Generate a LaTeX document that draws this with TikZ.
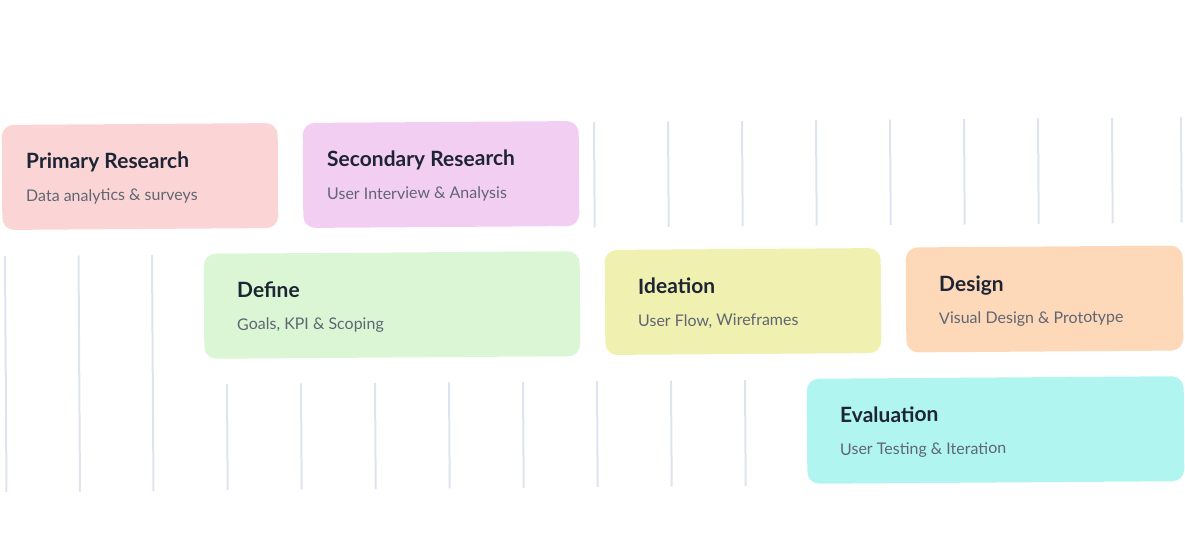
\documentclass[tikz,border=0pt]{standalone}
\usepackage{fontspec}
\setmainfont{Lato}
\definecolor{prc}{HTML}{FBD5D6}
\definecolor{src}{HTML}{F3CEF3}
\definecolor{dfc}{HTML}{DBF6D5}
\definecolor{idc}{HTML}{F0F0B1}
\definecolor{dsc}{HTML}{FED9B9}
\definecolor{evc}{HTML}{B1F5F0}
\definecolor{ttlc}{HTML}{1D2433}
\definecolor{subc}{HTML}{5F6672}
\definecolor{gridc}{HTML}{DEE4EF}
\tikzset{
  stagebox/.style={rounded corners=12pt, fill=#1, draw=none, minimum height=105pt, inner sep=0pt, rotate=0.4},
  ttl/.style={anchor=base west, inner sep=0pt, text=ttlc, font=\fontsize{21}{25}\selectfont\bfseries, rotate=0.4},
  sub/.style={anchor=base west, inner sep=0pt, text=subc, font=\fontsize{16}{19}\selectfont, rotate=0.4},
  gridline/.style={draw=gridc, line width=2pt}
}
\begin{document}
\begin{tikzpicture}[x=1pt,y=-1pt]
\useasboundingbox (0,0) rectangle (1185,559);
% grid lines, row 1
\foreach \gx/\i in {594/0,668/1,742/2,816/3,890/4,964/5,1038/6,1112/7,1181/8}{
  \pgfmathsetmacro\gt{122-0.0081*(\gx-594)}
  \coordinate (ga\i) at (\gx,\gt);
  \coordinate (gb\i) at (\gx+0.7,\gt+105.5);
  \draw[gridline] (ga\i) -- (gb\i);
}
% grid lines, left of row 2
\foreach \i in {0,1,2}{
  \pgfmathsetmacro\gx{5+73.5*\i}
  \pgfmathsetmacro\gt{256-0.5*\i}
  \coordinate (gc\i) at (\gx,\gt);
  \coordinate (gd\i) at (\gx+1.5,\gt+236);
  \draw[gridline] (gc\i) -- (gd\i);
}
% grid lines, row 3
\foreach \i in {0,...,7}{
  \pgfmathsetmacro\gx{227+74*\i}
  \pgfmathsetmacro\gt{384-0.0075*74*\i}
  \coordinate (ge\i) at (\gx,\gt);
  \coordinate (gf\i) at (\gx+0.7,\gt+106);
  \draw[gridline] (ge\i) -- (gf\i);
}
% boxes
\node[stagebox=prc, minimum width=276pt] (pr) at (140,176.5) {};
\node[stagebox=src, minimum width=276pt] (sr) at (441,174.5) {};
\node[stagebox=dfc, minimum width=376pt] (df) at (392,305) {};
\node[stagebox=idc, minimum width=276pt] (id) at (743,301.5) {};
\node[stagebox=dsc, minimum width=277pt] (ds) at (1044.5,299) {};
\node[stagebox=evc, minimum width=377pt] (ev) at (995.5,430) {};
% texts
\node[ttl] (prt) at ([xshift=-114pt,yshift=7.5pt]pr.center) {Primary Research};
\node[sub] (prs) at ([xshift=-114pt,yshift=-25pt]pr.center) {Data analytics \& surveys};
\node[ttl] (srt) at ([xshift=-114pt,yshift=7.5pt]sr.center) {Secondary Research};
\node[sub] (srs) at ([xshift=-114pt,yshift=-25pt]sr.center) {User Interview \& Analysis};
\node[ttl] (dft) at ([xshift=-155pt,yshift=7.5pt]df.center) {Define};
\node[sub] (dfs) at ([xshift=-155pt,yshift=-25pt]df.center) {Goals, KPI \& Scoping};
\node[ttl] (idt) at ([xshift=-105pt,yshift=7.5pt]id.center) {Ideation};
\node[sub] (ids) at ([xshift=-105pt,yshift=-25pt]id.center) {User Flow, Wireframes};
\node[ttl] (dst) at ([xshift=-105.5pt,yshift=7.5pt]ds.center) {Design};
\node[sub] (dss) at ([xshift=-105.5pt,yshift=-25pt]ds.center) {Visual Design \& Prototype};
\node[ttl] (evt) at ([xshift=-155.5pt,yshift=7.5pt]ev.center) {Evaluation};
\node[sub] (evs) at ([xshift=-155.5pt,yshift=-25pt]ev.center) {User Testing \& Iteration};
\end{tikzpicture}
\end{document}
